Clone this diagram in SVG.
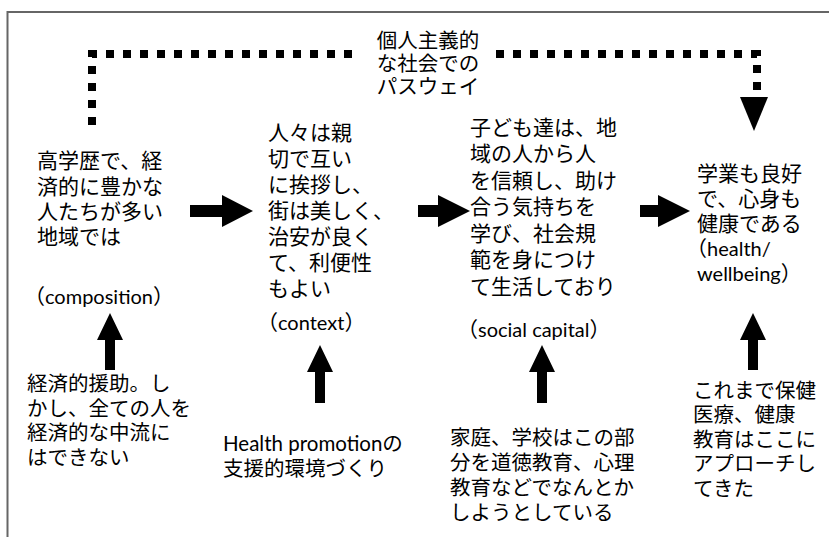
<svg xmlns="http://www.w3.org/2000/svg" width="829" height="537" viewBox="0 0 829 537">
<style>
.t{font-family:Lato,"Noto Sans CJK JP",sans-serif;font-size:21px;fill:#000}
.s{font-size:20.5px}
.l{font-size:20px}
.dot{fill:none;stroke:#000;stroke-width:8;stroke-dasharray:8 9}
.ar{fill:#000}
</style>
<rect x="0" y="0" width="829" height="537" fill="#fff"/>
<path d="M7.5 537V12H829" fill="none" stroke="#666" stroke-width="2"/>
<g id="connectors">
<path class="dot" d="M92 125V54H357"/>
<path class="dot" d="M496 54H757V98"/>
<polygon class="ar" points="740,97 768,97 754,131"/>
<polygon class="ar" points="190,205 222,205 222,195 253,211 222,227 222,217 190,217"/>
<polygon class="ar" points="418,205 438,205 438,195 470,211 438,227 438,217 418,217"/>
<polygon class="ar" points="640,205 658,205 658,195 690,211 658,227 658,217 640,217"/>
<polygon class="ar" points="105,370 105,340 97,340 110,313 123,340 115,340 115,370"/>
<polygon class="ar" points="315,403 315,372 307,372 320,345 333,372 325,372 325,403"/>
<polygon class="ar" points="537,403 537,372 529,372 542,345 555,372 547,372 547,403"/>
<polygon class="ar" points="748,370 748,340 740,340 753,313 766,340 758,340 758,370"/>
</g>
<g id="title" class="t s" text-anchor="middle">
<text x="428" y="48">個人主義的</text>
<text x="428" y="71">な社会での</text>
<text x="428" y="94">パスウェイ</text>
</g>
<g id="composition" class="t">
<text x="37" y="168">高学歴で、経</text>
<text x="37" y="194">済的に豊かな</text>
<text x="37" y="219">人たちが多い</text>
<text x="37" y="244">地域では</text>
<text x="24" y="304">（<tspan class="l">composition</tspan>）</text>
</g>
<g id="context" class="t">
<text x="268" y="140">人々は親</text>
<text x="268" y="166">切で互い</text>
<text x="268" y="192">に挨拶し、</text>
<text x="268" y="218">街は美しく、</text>
<text x="268" y="244">治安が良く</text>
<text x="268" y="270">て、利便性</text>
<text x="268" y="296">もよい</text>
<text x="257" y="330">（<tspan class="l">context</tspan>）</text>
</g>
<g id="social-capital" class="t">
<text x="470" y="135">子ども達は、地</text>
<text x="470" y="161">域の人から人</text>
<text x="470" y="188">を信頼し、助け</text>
<text x="470" y="214">合う気持ちを</text>
<text x="470" y="241">学び、社会規</text>
<text x="470" y="267">範を身につけ</text>
<text x="470" y="294">て生活しており</text>
<text x="457" y="337">（<tspan class="l">social capital</tspan>）</text>
</g>
<g id="health" class="t">
<text x="697" y="181">学業も良好</text>
<text x="697" y="206">で、心身も</text>
<text x="697" y="231">健康である</text>
<text x="686" y="256">（<tspan class="l">health/</tspan></text>
<text x="697" y="281"><tspan class="l">wellbeing</tspan>）</text>
</g>
<g id="economic-aid" class="t s">
<text x="27" y="391">経済的援助。し</text>
<text x="27" y="416">かし、全ての人を</text>
<text x="27" y="440">経済的な中流に</text>
<text x="27" y="465">はできない</text>
</g>
<g id="health-promotion" class="t s">
<text x="223" y="451">Health promotionの</text>
<text x="223" y="476">支援的環境づくり</text>
</g>
<g id="moral-education" class="t s">
<text x="450" y="445">家庭、学校はこの部</text>
<text x="450" y="470">分を道徳教育、心理</text>
<text x="450" y="495">教育などでなんとか</text>
<text x="450" y="520">しようとしている</text>
</g>
<g id="health-education" class="t s">
<text x="693" y="398">これまで保健</text>
<text x="693" y="422">医療、健康</text>
<text x="693" y="447">教育はここに</text>
<text x="693" y="471">アプローチし</text>
<text x="693" y="496">てきた</text>
</g>
</svg>
